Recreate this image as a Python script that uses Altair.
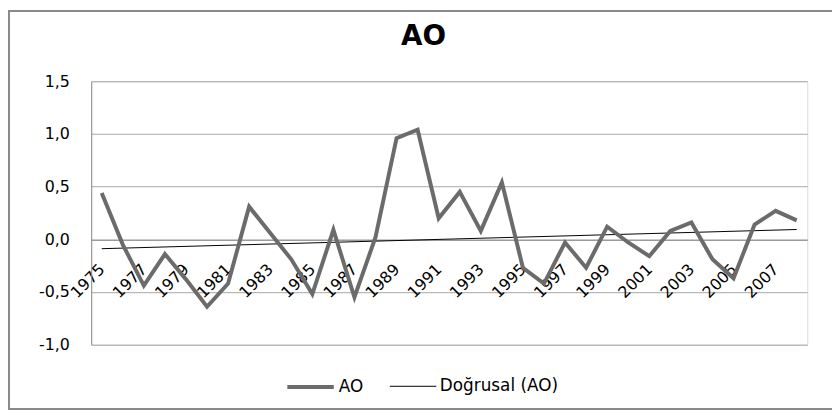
import altair as alt
import pandas as pd

years = list(range(1975, 2009))
ao = [0.44, -0.05, -0.44, -0.14, -0.38, -0.64, -0.42, 0.31, 0.06, -0.19,
      -0.52, 0.09, -0.55, 0.02, 0.96, 1.04, 0.20, 0.45, 0.08, 0.54,
      -0.27, -0.42, -0.03, -0.27, 0.12, -0.03, -0.16, 0.08, 0.16, -0.19,
      -0.37, 0.14, 0.27, 0.18]
series_names = ["AO", "Doğrusal (AO)"]
y_ticks = [-1.0, -0.5, 0.0, 0.5, 1.0, 1.5]
x_ticks = list(range(1975, 2008, 2))

df = pd.DataFrame({"year": years, "value": ao, "series": series_names[0]})

W, H = 723, 266
PL, PT, PR, PB = 84, 72, 25, 66

color_scale = alt.Scale(domain=series_names, range=["#6b6b6b", "#000000"])
width_scale = alt.Scale(domain=series_names, range=[4, 1])
legend = alt.Legend(title=None, orient="none", legendX=196, legendY=283,
                    direction="horizontal", symbolType="stroke", symbolSize=2200,
                    labelFont="DejaVu Sans", labelFontSize=17, labelColor="#000000",
                    labelOffset=3, columnPadding=24)

x_enc = alt.X("year:Q",
              scale=alt.Scale(domain=[1974.5, 2008.5], nice=False, zero=False),
              axis=alt.Axis(title=None, values=x_ticks, format="d", labelAngle=315,
                            labelAlign="right", labelBaseline="middle", labelPadding=27,
                            ticks=False, grid=False, domain=True, domainColor="#8c8c8c",
                            offset=-106, labelOverlap=False, labelBound=False,
                            labelFlush=False, labelFont="DejaVu Sans", labelFontSize=16,
                            labelColor="#000000"))
y_enc = alt.Y("value:Q",
              scale=alt.Scale(domain=[-1.0, 1.5], nice=False, zero=False),
              axis=alt.Axis(title=None, values=y_ticks,
                            labelExpr="replace(replace(format(datum.value, '.1f'), '.', ','), '−', '-')",
                            ticks=False, labelPadding=22, grid=True, gridColor="#a6a6a6",
                            domain=True, domainColor="#8c8c8c", labelFont="DejaVu Sans",
                            labelFontSize=16, labelColor="#000000"))

base = alt.Chart(df)

line = base.mark_line().encode(
    x=x_enc, y=y_enc,
    color=alt.Color("series:N", scale=color_scale, legend=legend),
    strokeWidth=alt.StrokeWidth("series:N", scale=width_scale, legend=legend),
)

trend = base.transform_regression("year", "value", method="linear").transform_calculate(
    series="'Doğrusal (AO)'"
).mark_line().encode(
    x=x_enc, y=y_enc,
    color=alt.Color("series:N", scale=color_scale, legend=legend),
    strokeWidth=alt.StrokeWidth("series:N", scale=width_scale, legend=legend),
)

border = alt.Chart(pd.DataFrame({"a": [0]})).mark_rect(
    fill=None, stroke="#8a8a8a", strokeWidth=2
).encode(
    x=alt.value(-PL + 1), x2=alt.value(W + PR + 20),
    y=alt.value(-PT + 1), y2=alt.value(H + PB - 1),
)

chart = alt.layer(border, trend, line).properties(
    width=W, height=H,
    title=alt.TitleParams("AO", font="DejaVu Sans", fontSize=28, fontWeight="bold",
                          anchor="middle", dx=-26, offset=-63, baseline="alphabetic",
                          color="#000000"),
    autosize=alt.AutoSizeParams(type="none"),
    padding={"left": PL, "top": PT, "right": PR, "bottom": PB},
).configure_view(stroke=None).configure(background="white")

chart.save("out.html", embed_options={"renderer": "svg", "actions": False})
